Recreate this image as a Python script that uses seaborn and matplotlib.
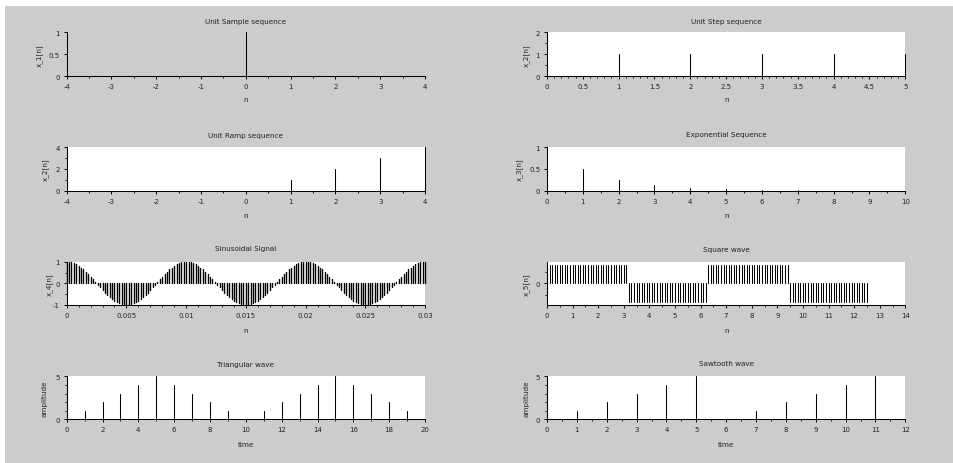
import numpy as np
import pandas as pd
import matplotlib
matplotlib.use("Agg")
import matplotlib.pyplot as plt
import seaborn as sns
from matplotlib.ticker import MultipleLocator, FixedLocator, FuncFormatter, NullLocator
from matplotlib.patches import Rectangle

# ---------------- data ----------------
sample_n = [-4, -3, -2, -1, 0, 1, 2, 3, 4]
sample_x = [0, 0, 0, 0, 1, 0, 0, 0, 0]

step_n = [0, 1, 2, 3, 4, 5]
step_x = [1, 1, 1, 1, 1, 1]

ramp_n = [-4, -3, -2, -1, 0, 1, 2, 3, 4]
ramp_x = [0, 0, 0, 0, 0, 1, 2, 3, 4]

exp_n = [0, 1, 2, 3, 4, 5, 6, 7, 8, 9, 10]
exp_x = [1.0, 0.5, 0.25, 0.125, 0.0625, 0.031, 0.016, 0.008, 0.004, 0.002, 0.001]

sin_period = [1.00, 0.99, 0.97, 0.93, 0.88, 0.81, 0.73, 0.64, 0.54, 0.43,
              0.31, 0.19, 0.06, -0.06, -0.19, -0.31, -0.43, -0.54, -0.64, -0.73,
              -0.81, -0.88, -0.93, -0.97, -0.99, -1.00, -0.99, -0.97, -0.93, -0.88,
              -0.81, -0.73, -0.64, -0.54, -0.43, -0.31, -0.19, -0.06, 0.06, 0.19,
              0.31, 0.43, 0.54, 0.64, 0.73, 0.81, 0.88, 0.93, 0.97, 0.99]
sin_x = sin_period * 3 + [1.00]
sin_t = np.linspace(0, 0.03, len(sin_x))

sq_x = [1] * 32 + [-1] * 31 + [1] * 32 + [-1] * 31
sq_t = np.round(np.linspace(0, 12.5, len(sq_x)), 2)

tri_t = list(range(21))
tri_x = [0, 1, 2, 3, 4, 5, 4, 3, 2, 1, 0, 1, 2, 3, 4, 5, 4, 3, 2, 1, 0]

saw_t = list(range(13))
saw_x = [0, 1, 2, 3, 4, 5, 0, 1, 2, 3, 4, 5, 0]

titles = ["Unit Sample sequence", "Unit Step sequence", "Unit Ramp sequence",
          "Exponential Sequence", "Sinusoidal Signal", "Square wave",
          "Triangular wave", "Sawtooth wave"]
ylabels = ["x_1[n]", "x_2[n]", "x_2[n]", "x_3[n]", "x_4[n]", "x_5[n]",
           "amplitude", "amplitude"]
xlabels = ["n", "n", "n", "n", "n", "n", "time", "time"]

# ---------------- style ----------------
sns.set_style("ticks")
plt.rcParams["font.family"] = ["DejaVu Sans"]
plt.rcParams["axes.unicode_minus"] = False

W, H = 954, 464
DPI = 100
fig = plt.figure(figsize=(W / DPI, H / DPI), dpi=DPI, facecolor="white")
GRAY = "#cccccc"
fig.patches.append(Rectangle((5 / W, -0.01), 1.02, (H - 7) / H + 0.01,
                             transform=fig.transFigure,
                             facecolor=GRAY, edgecolor="none", zorder=-10))

cols = [(66.7, 425.0), (547.0, 905.3)]
rows = [(33.3, 77.3), (148.3, 191.7), (262.7, 306.0), (377.3, 420.3)]

FS = 5.2
TFS = 5.0

def stems(ax, x, y, lw=0.75):
    x = np.asarray(x, float)
    y = np.asarray(y, float)
    df = pd.DataFrame({
        "x": np.repeat(x, 2),
        "y": np.column_stack([np.zeros_like(y), y]).ravel(),
        "id": np.repeat(np.arange(len(x)), 2),
    })
    sns.lineplot(data=df, x="x", y="y", units="id", estimator=None, sort=False,
                 color="black", lw=lw, ax=ax, legend=False, clip_on=False)

fmt = FuncFormatter(lambda v, p: "%g" % round(v, 6))

specs = [
    dict(x=sample_n, y=sample_x, xlim=(-4, 4), xmaj=1, xmin=0.5, ylim=(0, 1),
         yt=[0, 0.5, 1], ymt=[], bg=GRAY, ylx=39.3, tty=21.7, xly=100.5, lw=0.75),
    dict(x=step_n, y=step_x, xlim=(0, 5), xmaj=0.5, xmin=0.1, ylim=(0, 2),
         yt=[0, 1, 2], ymt=[0.5, 1.5], bg="white", ylx=526.3, tty=21.7, xly=100.0, lw=0.75),
    dict(x=ramp_n, y=ramp_x, xlim=(-4, 4), xmaj=1, xmin=0.5, ylim=(0, 4),
         yt=[0, 2, 4], ymt=[1, 3], bg="white", ylx=45.0, tty=136.0, xly=216.5, lw=0.75),
    dict(x=exp_n, y=exp_x, xlim=(0, 10), xmaj=1, xmin=0.5, ylim=(0, 1),
         yt=[0, 0.5, 1], ymt=[], bg="white", ylx=519.7, tty=135.3, xly=216.0, lw=0.75),
    dict(x=sin_t, y=sin_x, xlim=(0, 0.03), xmaj=0.005, xmin=0.001, ylim=(-1, 1),
         yt=[-1, 0, 1], ymt=[-0.5, 0.5], bg="white", ylx=49.3, tty=248.7, xly=331.0, lw=1.0),
    dict(x=sq_t, y=sq_x, xlim=(0, 14), xmaj=1, xmin=0.5, ylim=(-1.19, 1.19),
         yt=[0], ymt=[-0.65, 0.65], bg="white", ylx=526.3, tty=250.3, xly=331.0, lw=0.75),
    dict(x=tri_t, y=tri_x, xlim=(0, 20), xmaj=2, xmin=1, ylim=(0, 5),
         yt=[0, 5], ymt=[1, 2, 3, 4], bg="white", ylx=45.0, tty=364.7, xly=445.0, lw=0.75),
    dict(x=saw_t, y=saw_x, xlim=(0, 12), xmaj=1, xmin=0.5, ylim=(0, 5),
         yt=[0, 5], ymt=[1, 2, 3, 4], bg="white", ylx=526.3, tty=364.0, xly=445.0, lw=0.75),
]

for i, s in enumerate(specs):
    l, r = cols[i % 2]
    t, b = rows[i // 2]
    wpx, hpx = r - l, b - t
    ax = fig.add_axes([l / W, 1 - b / H, wpx / W, hpx / H])
    ax.set_facecolor(s["bg"])
    stems(ax, s["x"], s["y"], s["lw"])
    ax.set_xlim(*s["xlim"])
    ax.set_ylim(*s["ylim"])
    ax.xaxis.set_major_locator(MultipleLocator(s["xmaj"]))
    ax.xaxis.set_minor_locator(MultipleLocator(s["xmin"]))
    ax.yaxis.set_major_locator(FixedLocator(s["yt"]))
    if s["ymt"]:
        ax.yaxis.set_minor_locator(FixedLocator(s["ymt"]))
    else:
        ax.yaxis.set_minor_locator(NullLocator())
    ax.xaxis.set_major_formatter(fmt)
    ax.yaxis.set_major_formatter(fmt)
    for sp in ["top", "right"]:
        ax.spines[sp].set_visible(False)
    for sp in ["left", "bottom"]:
        ax.spines[sp].set_color("black")
        ax.spines[sp].set_linewidth(0.75)
        ax.spines[sp].set_zorder(5)
    ax.tick_params(which="major", direction="out", length=2.3, width=0.7,
                   color="black", labelsize=TFS, labelcolor="#222222", pad=2.6)
    ax.tick_params(which="minor", direction="out", length=1.2, width=0.6, color="black")
    ax.grid(False)
    ax.set_xlabel(xlabels[i], fontsize=FS, color="#222222")
    ax.set_ylabel(ylabels[i], fontsize=FS, color="#222222")
    ax.xaxis.set_label_coords(0.5, -(s["xly"] - b) / hpx)
    ax.xaxis.label.set_va("center")
    ax.yaxis.set_label_coords(-(l - s["ylx"]) / wpx, 0.5)
    ax.yaxis.label.set_va("center")
    ax.text(0.5, 1 + (t - s["tty"]) / hpx, titles[i], transform=ax.transAxes,
            ha="center", va="center", fontsize=FS, color="#222222")

fig.savefig("out.png", dpi=DPI, facecolor=fig.get_facecolor())
